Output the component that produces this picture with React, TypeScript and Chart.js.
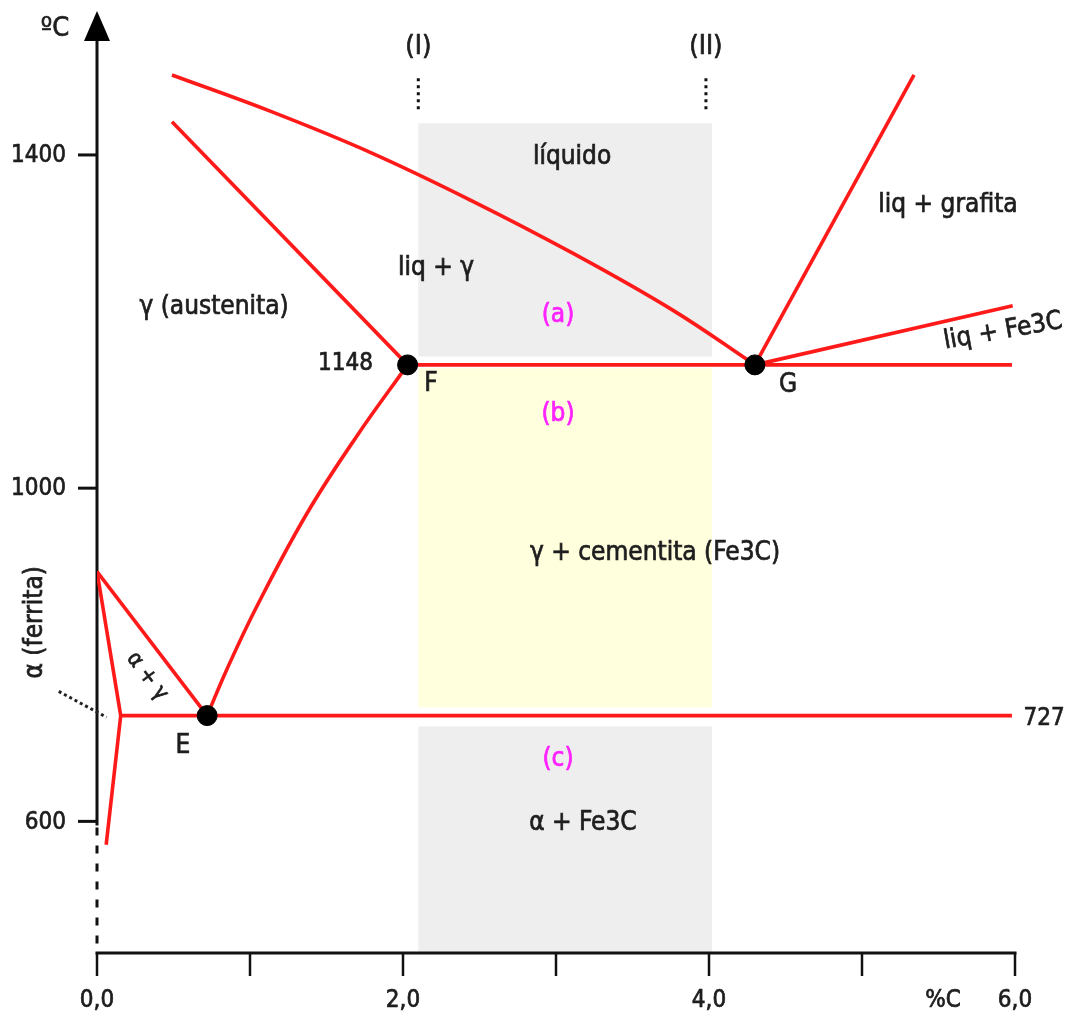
import React, { useEffect, useRef } from 'react';
import { Chart, registerables } from 'chart.js';

Chart.register(...registerables);

// Axis ticks
const xTickValues = [0, 1, 2, 3, 4, 5, 6];
const xTickLabels = ['0,0', '', '2,0', '', '4,0', '', '6,0'];
const yTickValues = [600, 1000, 1400];
const yTickLabels = ['600', '1000', '1400'];
const xUnitLabel = '%C';
const yUnitLabel = 'ºC';

// Phase boundaries (%C, °C)
const liquidusC = [0.49, 1.14, 1.8, 2.45, 3.1, 3.76, 4.3];
const liquidusT = [1496, 1452, 1402, 1345, 1283, 1214, 1148];
const austeniteLiqC = [0.49, 2.03];
const austeniteLiqT = [1440, 1148];
const acmC = [0.72, 0.85, 1.05, 1.37, 1.7, 2.03];
const acmT = [727, 783, 860, 969, 1063, 1148];
const eutecticC = [2.03, 5.98];
const eutecticT = [1148, 1148];
const eutectoidC = [0.155, 5.98];
const eutectoidT = [727, 727];
const a3C = [0, 0.72];
const a3T = [900, 727];
const ferriteC = [0, 0.155, 0.06];
const ferriteT = [900, 727, 572];
const graphiteC = [4.3, 5.34];
const graphiteT = [1148, 1496];
const cementiteC = [4.3, 5.985];
const cementiteT = [1148, 1219];
const ferriteDotC = [-0.25, 0.063];
const ferriteDotT = [756, 725];

// Key points
const keyC = [2.03, 4.3, 0.72];
const keyT = [1148, 1148, 727];

// Alloy composition markers (I), (II)
const alloyC = [2.1, 3.98];
const alloyNames = ['(I)', '(II)'];
const alloyMarkT = [1492, 1450];

// Shaded bands between the two alloys
const bandC = [2.1, 4.02];
const grayTopT = [1438, 1158];
const yellowT = [1144, 737];
const grayBottomT = [714, 442];

// Region labels: text, %C, °C
const labelText = ['líquido', 'liq + γ', 'γ (austenita)', '1148', 'F', 'G', 'E',
  'γ + cementita (Fe3C)', 'α + Fe3C', '727', 'liq + grafita', 'liq + Fe3C',
  'α (ferrita)', 'α + γ', '(a)', '(b)', '(c)'];
const labelC = [3.105, 2.216, 0.765, 1.804, 2.183, 4.516, 0.562,
  3.647, 3.176, 6.19, 5.562, 5.922, -0.405, 0.327, 3.013, 3.013, 3.013];
const labelT = [1397, 1264, 1217, 1149, 1125, 1124, 690,
  922, 598, 723, 1340, 1188, 839, 774, 1207, 1089, 674];

const FONT = '"DejaVu Sans Condensed", "DejaVu Sans", sans-serif';
const RED = '#ff1a1a';
const TEXT = '#1e1e1e';

const pts = (cs: number[], ts: number[]) => cs.map((c, i) => ({ x: c, y: ts[i] }));

const line = (cs: number[], ts: number[], extra: any = {}) => ({
  data: pts(cs, ts),
  showLine: true,
  borderColor: RED,
  borderWidth: 3.6,
  pointRadius: 0,
  fill: false,
  ...extra,
});

const drawText = (ctx: any, t: string, x: number, y: number, color: string) => {
  ctx.fillStyle = color;
  ctx.strokeStyle = color;
  ctx.lineWidth = 0.7;
  ctx.fillText(t, x, y);
  ctx.strokeText(t, x, y);
};

const diagramPlugin = {
  id: 'diagram',
  beforeDatasetsDraw(chart: any) {
    const { ctx, scales } = chart;
    const xs = scales.x;
    const ys = scales.y;
    const X = (v: number) => xs.getPixelForValue(v);
    const Y = (v: number) => ys.getPixelForValue(v);
    ctx.save();
    const rect = (t: number[], color: string) => {
      ctx.fillStyle = color;
      ctx.fillRect(X(bandC[0]), Y(t[0]), X(bandC[1]) - X(bandC[0]), Y(t[1]) - Y(t[0]));
    };
    rect(grayTopT, '#eeeeee');
    rect(yellowT, '#ffffdd');
    rect(grayBottomT, '#eeeeee');

    // y axis
    const x0 = X(0);
    const yBottom = chart.chartArea.bottom;
    const yTop = chart.chartArea.top;
    ctx.strokeStyle = '#111';
    ctx.lineWidth = 3;
    ctx.beginPath();
    ctx.moveTo(x0, yTop + 20);
    ctx.lineTo(x0, Y(600) + 4);
    ctx.stroke();
    ctx.setLineDash([8, 10]);
    ctx.beginPath();
    ctx.moveTo(x0, Y(600) + 6);
    ctx.lineTo(x0, yBottom);
    ctx.stroke();
    ctx.setLineDash([]);
    // arrow
    ctx.fillStyle = '#000';
    ctx.beginPath();
    ctx.moveTo(x0, yTop - 4);
    ctx.lineTo(x0 - 13, yTop + 26);
    ctx.lineTo(x0 + 13, yTop + 26);
    ctx.closePath();
    ctx.fill();
    // y ticks
    ctx.font = `24px ${FONT}`;
    ctx.textAlign = 'right';
    ctx.textBaseline = 'middle';
    yTickValues.forEach((v, i) => {
      const y = Y(v);
      ctx.strokeStyle = '#111';
      ctx.lineWidth = 3;
      ctx.beginPath();
      ctx.moveTo(x0 - 19, y);
      ctx.lineTo(x0, y);
      ctx.stroke();
      drawText(ctx, yTickLabels[i], x0 - 31, y + 1, TEXT);
    });
    ctx.textAlign = 'center';
    ctx.font = `27px ${FONT}`;
    drawText(ctx, yUnitLabel, x0 - 42, yTop + 14, TEXT);

    // x axis
    ctx.strokeStyle = '#111';
    ctx.lineWidth = 3;
    ctx.beginPath();
    ctx.moveTo(X(0) - 1.5, yBottom);
    ctx.lineTo(X(6) + 1.5, yBottom);
    ctx.stroke();
    ctx.font = `24px ${FONT}`;
    xTickValues.forEach((v, i) => {
      const x = X(v);
      ctx.strokeStyle = '#111';
      ctx.lineWidth = 2.5;
      ctx.beginPath();
      ctx.moveTo(x, yBottom);
      ctx.lineTo(x, yBottom + 23);
      ctx.stroke();
      if (xTickLabels[i]) drawText(ctx, xTickLabels[i], x, yBottom + 48, TEXT);
    });
    drawText(ctx, xUnitLabel, X(5.53), yBottom + 48, TEXT);

    // alloy markers
    ctx.font = `27px ${FONT}`;
    alloyC.forEach((c, i) => {
      ctx.strokeStyle = '#111';
      ctx.lineWidth = 3;
      ctx.setLineDash([3, 4]);
      ctx.beginPath();
      ctx.moveTo(X(c), Y(alloyMarkT[0]));
      ctx.lineTo(X(c), Y(alloyMarkT[1]));
      ctx.stroke();
      ctx.setLineDash([]);
      drawText(ctx, alloyNames[i], X(c), Y(alloyMarkT[0]) - 31, TEXT);
    });
    ctx.restore();
  },
  afterDatasetsDraw(chart: any) {
    const { ctx, scales } = chart;
    const X = (v: number) => scales.x.getPixelForValue(v);
    const Y = (v: number) => scales.y.getPixelForValue(v);
    ctx.save();
    ctx.textBaseline = 'middle';
    labelText.forEach((t, i) => {
      const x = X(labelC[i]);
      const y = Y(labelT[i]);
      ctx.save();
      ctx.translate(x, y);
      let size = 26;
      ctx.textAlign = 'center';
      if (t === 'liq + Fe3C') ctx.rotate(-10 * Math.PI / 180);
      if (t === 'α (ferrita)') ctx.rotate(-Math.PI / 2);
      if (t === 'α + γ') { ctx.rotate(53 * Math.PI / 180); size = 22; }
      if (t === '1148' || t === '727') size = 24;
      if (t === '1148') ctx.textAlign = 'right';
      ctx.font = `${size}px ${FONT}`;
      drawText(ctx, t, 0, 0, t.startsWith('(') ? '#ff22ff' : TEXT);
      ctx.restore();
    });
    ctx.restore();
  },
};

export default function App() {
  const ref = useRef<HTMLCanvasElement>(null);
  useEffect(() => {
    document.body.style.margin = '0';
    const canvas = ref.current!;
    const chart = new Chart(canvas, {
      type: 'scatter',
      data: {
        datasets: [
          {
            data: pts(keyC, keyT),
            pointRadius: 10,
            pointBackgroundColor: '#000',
            pointBorderColor: '#000',
            showLine: false,
          } as any,
          line(liquidusC, liquidusT, { tension: 0.4 }),
          line(austeniteLiqC, austeniteLiqT),
          line(acmC, acmT, { tension: 0.4 }),
          line(eutecticC, eutecticT),
          line(eutectoidC, eutectoidT),
          line(a3C, a3T),
          line(ferriteC, ferriteT),
          line(graphiteC, graphiteT),
          line(cementiteC, cementiteT),
          line(ferriteDotC, ferriteDotT, { borderColor: '#222', borderWidth: 3, borderDash: [3, 3], clip: false }),
        ],
      },
      options: {
        responsive: false,
        animation: false,
        devicePixelRatio: 1,
        layout: { padding: { left: 97, right: 58, top: 15, bottom: 72 } },
        plugins: { legend: { display: false }, tooltip: { enabled: false } },
        events: [],
        scales: {
          x: { type: 'linear', min: 0, max: 6, display: false },
          y: { type: 'linear', min: 442, max: 1568, display: false },
        },
      },
      plugins: [diagramPlugin],
    });
    return () => chart.destroy();
  }, []);
  return (
    <canvas
      ref={ref}
      width={1073}
      height={1025}
      style={{ display: 'block', width: '1073px', height: '1025px' }}
    />
  );
}
